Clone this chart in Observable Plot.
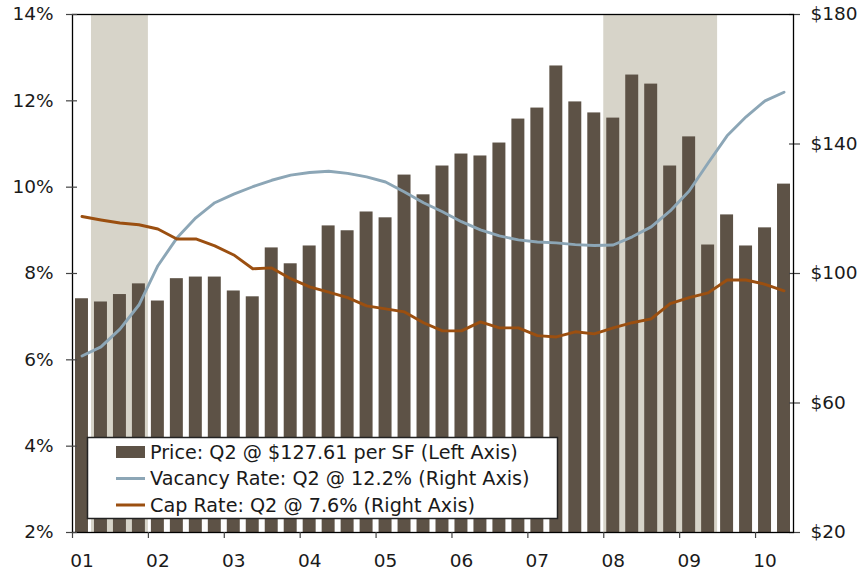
<!DOCTYPE html>
<html>
<head>
<meta charset="utf-8">
<script src="https://cdn.jsdelivr.net/npm/d3@7"></script>
<script src="https://cdn.jsdelivr.net/npm/@observablehq/plot@0.6"></script>
<style>
  body { margin: 0; background: #fff; }
  #chart { position: relative; width: 868px; height: 571px; }
  #chart svg { position: absolute; left: 0; top: 0; }
</style>
</head>
<body>
<div id="chart"></div>
<script>
// Quarterly office market series, 2001 Q1 – 2010 Q2
const years = ["01", "02", "03", "04", "05", "06", "07", "08", "09", "10"];
const quarters = years.flatMap(y => ["Q1", "Q2", "Q3", "Q4"].map(q => y + q)).slice(0, 38);

// Price per square foot ($)
const price = [
  92.2, 91.2, 93.5, 96.8, 91.5, 98.4, 98.9, 98.9, 94.6, 92.8,
  107.9, 103.0, 108.5, 114.7, 113.2, 119.0, 117.2, 130.4, 124.3, 133.2,
  136.9, 136.3, 140.3, 147.7, 151.1, 164.1, 153.0, 149.6, 148.0, 161.3,
  158.5, 133.2, 142.2, 108.8, 118.1, 108.5, 114.1, 127.61
];

// Vacancy rate (%)
const vacancy = [
  6.09, 6.30, 6.71, 7.27, 8.18, 8.82, 9.29, 9.64, 9.84, 10.01,
  10.16, 10.28, 10.34, 10.37, 10.32, 10.24, 10.12, 9.89, 9.64, 9.43,
  9.20, 9.01, 8.87, 8.78, 8.73, 8.71, 8.67, 8.65, 8.66, 8.85,
  9.08, 9.45, 9.91, 10.56, 11.19, 11.63, 12.0, 12.2
];

// Cap rate (%)
const capRate = [
  9.32, 9.24, 9.17, 9.13, 9.03, 8.80, 8.80, 8.64, 8.43, 8.11,
  8.13, 7.88, 7.69, 7.57, 7.44, 7.25, 7.18, 7.11, 6.86, 6.67,
  6.67, 6.88, 6.74, 6.74, 6.56, 6.53, 6.65, 6.60, 6.74, 6.86,
  6.95, 7.30, 7.44, 7.55, 7.85, 7.85, 7.75, 7.6
];

// Recession periods (first and last quarter)
const recessions = [
  { from: "01Q2", to: "01Q4" },
  { from: "08Q1", to: "09Q2" }
];

const pctTicks = [2, 4, 6, 8, 10, 12, 14];
const dollarTicks = [20, 60, 100, 140, 180];

const BAR = "#5d5246";
const BAND = "#d7d4c9";
const VAC = "#8ca6b6";
const CAP = "#9b4f10";
const TICK = "#444";
const TEXT = "#1a1a1a";
const FONT = "DejaVu Sans, Verdana, sans-serif";
const FONT_SIZE = 18.5;
const LEGEND_FONT_SIZE = 19.2;

const qIndex = new Map(quarters.map((q, i) => [q, i]));
const n = quarters.length;
const yearStarts = years.map(y => qIndex.get(y + "Q1"));

const base = {
  width: 868,
  height: 571,
  marginTop: 14,
  marginRight: 75,
  marginBottom: 39,
  marginLeft: 72,
  style: { fontFamily: FONT, fontSize: FONT_SIZE + "px", background: "transparent", color: TEXT }
};

// Layer 1: recession shading, price bars and the dollar axis
const barLayer = Plot.plot({
  ...base,
  x: { domain: [0, n], axis: null },
  y: { domain: [20, 180], axis: null },
  marks: [
    Plot.rectY(recessions, {
      x1: d => qIndex.get(d.from),
      x2: d => qIndex.get(d.to) + 1,
      y1: 20, y2: 180, fill: BAND
    }),
    Plot.rectY(price, {
      x1: (d, i) => i, x2: (d, i) => i + 1,
      y1: 20, y2: d => d,
      fill: BAR, insetLeft: 3, insetRight: 3
    }),
    Plot.axisY({ anchor: "right", ticks: dollarTicks, tickSize: 11, dx: -5, tickFormat: () => "", stroke: TICK, strokeWidth: 1.2 }),
    Plot.axisY({ anchor: "right", ticks: dollarTicks, tickSize: 0, tickPadding: 17, tickFormat: d => "$" + d, fill: TEXT })
  ]
});

// Layer 2: rate lines, frame, percent axis and year axis
const lineLayer = Plot.plot({
  ...base,
  x: { domain: [0, n], axis: null },
  y: { domain: [2, 14], axis: null },
  marks: [
    Plot.line(vacancy, { x: (d, i) => i + 0.5, y: d => d, stroke: VAC, strokeWidth: 2.9 }),
    Plot.line(capRate, { x: (d, i) => i + 0.5, y: d => d, stroke: CAP, strokeWidth: 2.9 }),
    Plot.frame({ stroke: "#000", strokeWidth: 1.3 }),
    Plot.axisY({ anchor: "left", ticks: pctTicks, tickSize: 11, dx: 5, tickFormat: () => "", stroke: TICK, strokeWidth: 1.2 }),
    Plot.axisY({ anchor: "left", ticks: pctTicks, tickSize: 0, tickPadding: 19, tickFormat: d => d + "%", fill: TEXT }),
    Plot.axisX({ ticks: yearStarts, tickSize: 6, tickFormat: () => "", stroke: TICK, strokeWidth: 1.2 }),
    Plot.axisX({ ticks: yearStarts.map(i => i + 0.5), tickSize: 0, tickPadding: 21,
                 tickFormat: d => years[Math.floor(d / 4)], fill: TEXT })
  ]
});

// Legend box drawn inside the plot area
const legendItems = [
  { type: "bar", color: BAR, label: `Price: Q2 @ $${price[n - 1]} per SF (Left Axis)` },
  { type: "line", color: VAC, label: `Vacancy Rate: Q2 @ ${vacancy[n - 1].toFixed(1)}% (Right Axis)` },
  { type: "line", color: CAP, label: `Cap Rate: Q2 @ ${capRate[n - 1].toFixed(1)}% (Right Axis)` }
];
const legend = d3.select(lineLayer).append("g")
  .attr("font-family", FONT)
  .attr("font-size", LEGEND_FONT_SIZE)
  .attr("text-anchor", "start");
legend.append("rect")
  .attr("x", 87.5).attr("y", 437.5).attr("width", 470).attr("height", 81)
  .attr("fill", "#fff").attr("stroke", "#222").attr("stroke-width", 1.5);
legendItems.forEach((item, k) => {
  const cy = 452 + k * 26.5;
  if (item.type === "bar") {
    legend.append("rect").attr("x", 116).attr("y", cy - 6).attr("width", 29).attr("height", 12).attr("fill", item.color);
  } else {
    legend.append("line").attr("x1", 116).attr("x2", 145).attr("y1", cy).attr("y2", cy)
      .attr("stroke", item.color).attr("stroke-width", 3);
  }
  legend.append("text").attr("x", 150).attr("y", cy).attr("dy", "0.36em")
    .attr("fill", TEXT).text(item.label);
});

const chart = document.getElementById("chart");
chart.append(barLayer);
chart.append(lineLayer);
</script>
</body>
</html>
